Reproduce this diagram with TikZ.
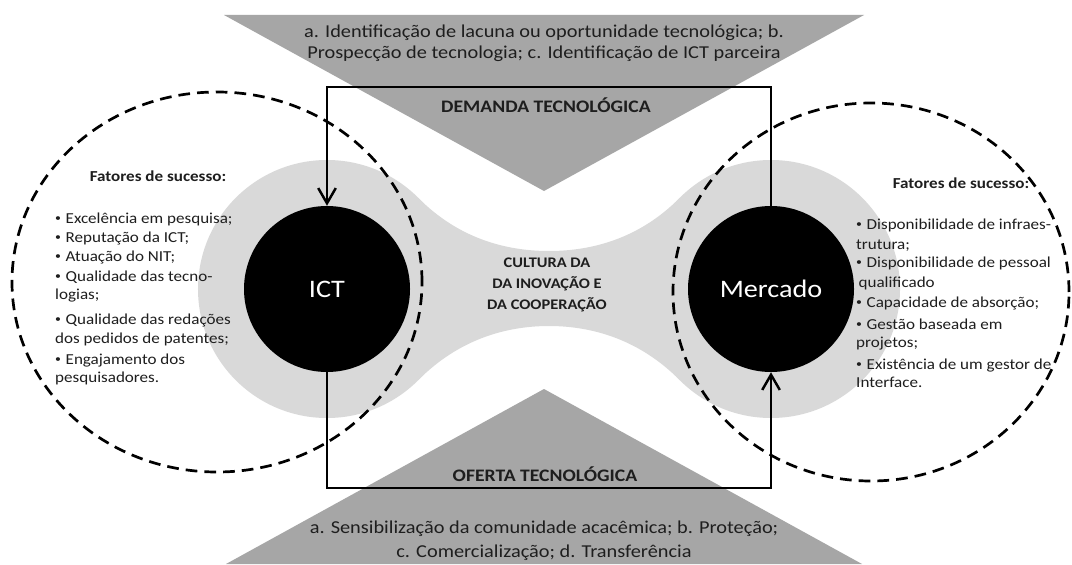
\documentclass[tikz,border=0pt]{standalone}
\usepackage{fontspec}
\setmainfont{Carlito}[FakeStretch=1.12]
\usetikzlibrary{arrows.meta}
\definecolor{gdark}{HTML}{A6A6A6}
\definecolor{glight}{HTML}{D9D9D9}
\definecolor{ink}{HTML}{1E1E1E}
\newcommand\dotb{{\fontsize{9}{9}\selectfont\raisebox{0.25ex}{•}}\hspace{0.3em}}
\begin{document}
\begin{tikzpicture}[x=0.03cm,y=-0.03cm,
  tri/.style={fill=gdark},
  halo/.style={fill=glight},
  ring/.style={draw=black,line width=2.3pt,dash pattern=on 10pt off 6pt},
  hub/.style={circle,fill=black,text=white,minimum size=4.98cm,inner sep=0pt,font=\fontsize{21.5}{25}\selectfont},
  conn/.style={draw=black,line width=2.1pt},
  tipped/.style={-{Straight Barb[length=13pt,width=15pt]}},
  toptext/.style={font=\fontsize{15.5}{18}\selectfont,text=ink,anchor=base,inner sep=0pt},
  boxlabel/.style={font=\fontsize{15}{18}\selectfont\bfseries,text=ink,anchor=base,inner sep=0pt},
  mid/.style={font=\fontsize{12.5}{15}\selectfont\bfseries,text=ink,anchor=base,inner sep=0pt},
  hdr/.style={font=\fontsize{13}{15}\selectfont\bfseries,text=ink,anchor=base,inner sep=0pt},
  item/.style={font=\fontsize{13}{15}\selectfont,text=ink,anchor=base west,inner sep=0pt}]
\useasboundingbox (0,0) rectangle (1072,564);
\fill[white] (0,0) rectangle (1072,564);
% grey triangles
\path[tri] (224,15) -- (864,15) -- (544,191) -- cycle;
\path[tri] (544,389) -- (862,564) -- (226,564) -- cycle;
% light grey halo
\path[halo] (327,289) circle[radius=3.87cm];
\path[halo] (771,289) circle[radius=3.87cm];
\path[halo] (418.2,197.8) .. controls (458,238) and (505,251) .. (549,251)
  .. controls (593,251) and (640,238) .. (679.8,197.8) -- (679.8,380.2)
  .. controls (640,340) and (593,326) .. (549,326)
  .. controls (505,326) and (458,340) .. (418.2,380.2) -- cycle;
% dashed rings
\draw[ring] (217,282) ellipse[x radius=6.15cm, y radius=5.7cm];
\draw[ring] (871,292) ellipse[x radius=5.94cm, y radius=5.67cm];
% hubs
\node[hub] (ict) at (327,289) {ICT};
\node[hub] (merc) at (771,289) {Mercado};
% connectors
\coordinate (topline) at (549,87);
\coordinate (botline) at (549,488);
\draw[conn,tipped] (merc.north) -- (merc.north |- topline) -- (ict.north |- topline) -- (ict.north);
\draw[conn,tipped] (ict.south) -- (ict.south |- botline) -- (merc.south |- botline) -- (merc.south);
% texts
\node[toptext] (dem1) at (544,38) {a. Identificação de lacuna ou oportunidade tecnológica; b.};
\node[toptext] (dem2) at (544,59) {Prospecção de tecnologia; c. Identificação de ICT parceira};
\node[boxlabel] (dlab) at (546,113) {DEMANDA TECNOLÓGICA};
\node[boxlabel] (olab) at (545,481) {OFERTA TECNOLÓGICA};
\node[mid] (c1) at (547,267) {CULTURA DA};
\node[mid] (c2) at (547,288) {DA INOVAÇÃO E};
\node[mid] (c3) at (547,309) {DA COOPERAÇÃO};
\node[toptext] (of1) at (544,533) {a. Sensibilização da comunidade acacêmica; b. Proteção;};
\node[toptext] (of2) at (544,557) {c. Comercialização; d. Transferência};
\node[hdr] (lh) at (158,181) {Fatores de sucesso:};
\node[hdr] (rh) at (961,188) {Fatores de sucesso:};
\foreach \n/\y/\t in {1/223/{\dotb Excelência em pesquisa;},2/242/{\dotb Reputação da ICT;},3/261/{\dotb Atuação do NIT;},4/281/{\dotb Qualidade das tecno-},5/299/{logias;},6/324/{\dotb Qualidade das redações},7/343/{dos pedidos de patentes;},8/364/{\dotb Engajamento dos},9/382/{pesquisadores.}}
  \node[item] (l\n) at (55,\y) {\t};
\foreach \n/\y/\t in {1/229/{\dotb Disponibilidade de infraes-},2/249/{trutura;},3/267/{\dotb Disponibilidade de pessoal},4/287/{\hspace{2pt}qualificado},5/307/{\dotb Capacidade de absorção;},6/329/{\dotb Gestão baseada em},7/347/{projetos;},8/369/{\dotb Existência de um gestor de},9/387/{Interface.}}
  \node[item] (r\n) at (856,\y) {\t};
\end{tikzpicture}
\end{document}
